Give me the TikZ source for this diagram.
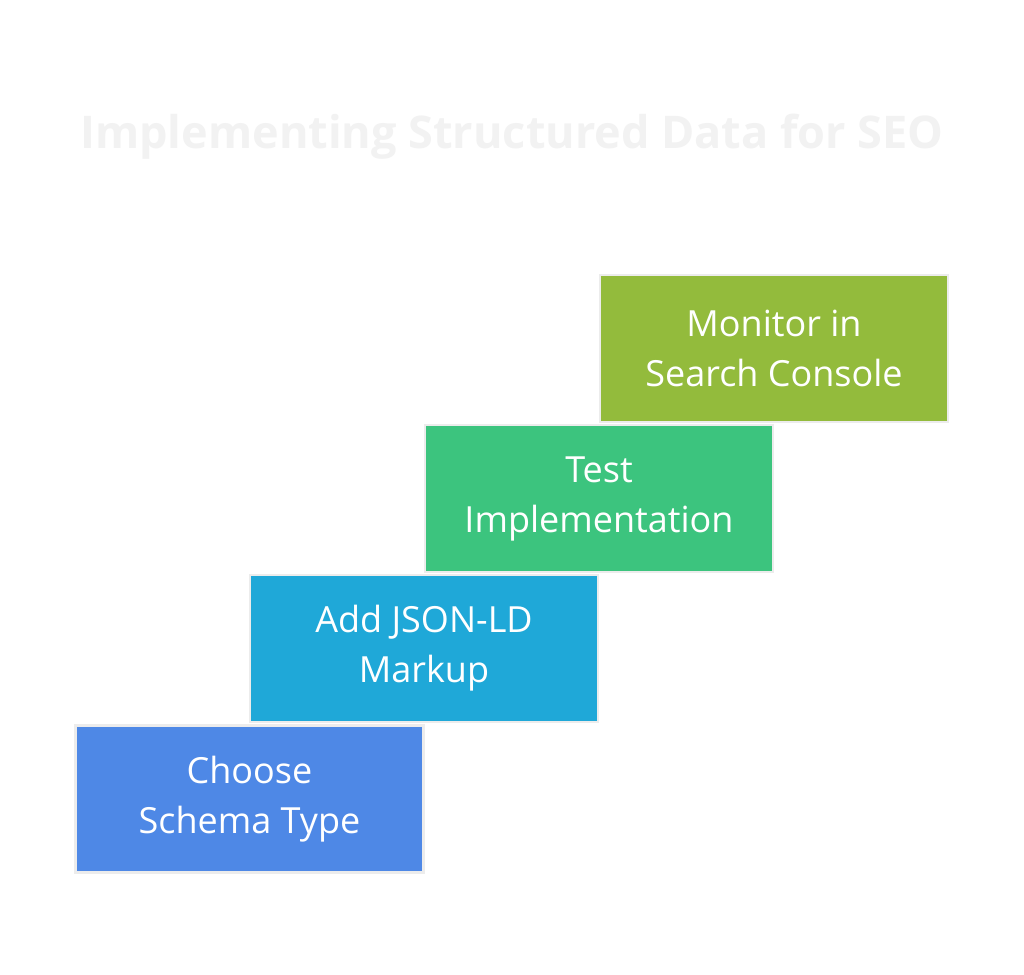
\documentclass[tikz,border=0pt]{standalone}
\usepackage{fontspec}
\setmainfont{Open Sans}
\definecolor{c1}{HTML}{4E88E6}
\definecolor{c2}{HTML}{1FA8D8}
\definecolor{c3}{HTML}{3CC47E}
\definecolor{c4}{HTML}{93BB3C}
\definecolor{ttl}{HTML}{F2F2F2}
\definecolor{bd}{HTML}{ECECEC}
\begin{document}
\begin{tikzpicture}[x=1pt,y=1pt,
  stepbox/.style={draw=bd,line width=2.5pt,minimum width=348pt,minimum height=147pt,text=white,align=center,font=\fontsize{36}{50}\selectfont,inner sep=0pt}]
\useasboundingbox (0,0) rectangle (1024,974);
\fill[white] (0,0) rectangle (1024,974);
\node[font=\bfseries\fontsize{45}{54}\selectfont,text=ttl] (t) at (512,837) {Implementing Structured Data for SEO};
\node[stepbox,fill=c1] (a) at (249.5,175) {Choose\\Schema Type};
\node[stepbox,fill=c2] (b) at (424,325.5) {Add JSON-LD\\Markup};
\node[stepbox,fill=c3] (c) at (599,475.5) {Test\\Implementation};
\node[stepbox,fill=c4] (d) at (774,625.5) {Monitor in\\Search Console};
\end{tikzpicture}
\end{document}
